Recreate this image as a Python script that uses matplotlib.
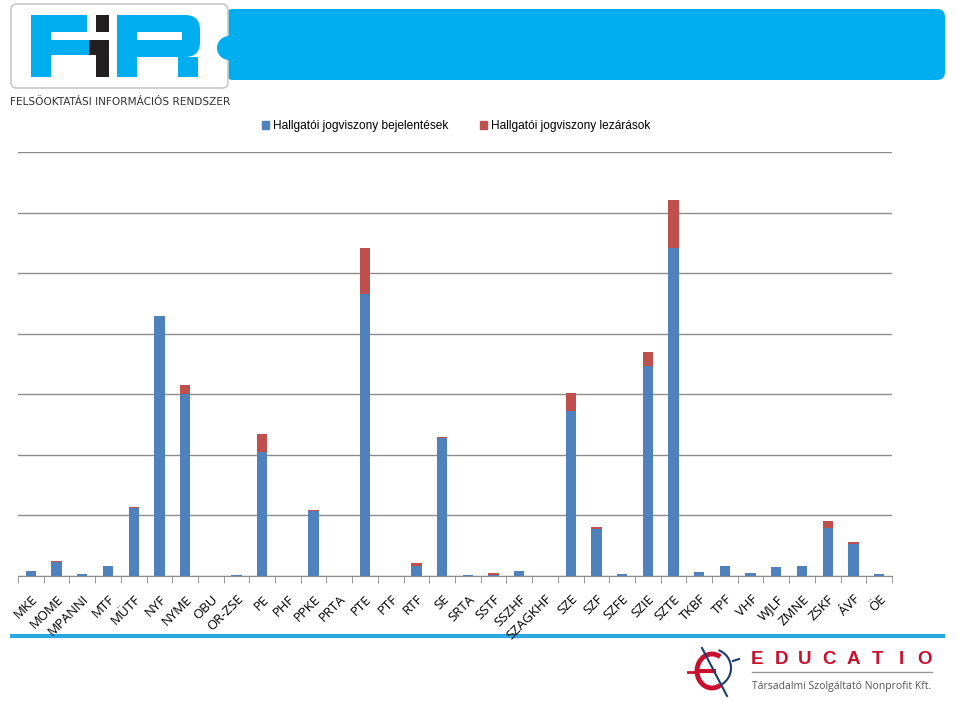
import numpy as np
import matplotlib
matplotlib.use("Agg")
from matplotlib import pyplot as plt
from matplotlib.patches import FancyBboxPatch, Rectangle, Arc, Patch, Wedge

# intézmények
institutions = ["MKE", "MOME", "MPANNI", "MTF", "MÜTF", "NYF", "NYME", "OBU", "OR-ZSE", "PE",
                "PHF", "PPKE", "PRTA", "PTE", "PTF", "RTF", "SE", "SRTA", "SSTF", "SSZHF",
                "SZAGKHF", "SZE", "SZF", "SZFE", "SZIE", "SZTE", "TKBF", "TPF", "VHF", "WJLF",
                "ZMNE", "ZSKF", "ÁVF", "ÖE"]
# Hallgatói jogviszony bejelentések
reports = [83, 230, 40, 165, 1125, 4290, 3005, 0, 10, 2055,
           5, 1075, 0, 4655, 5, 170, 2275, 10, 20, 83,
           5, 2725, 770, 33, 3470, 5420, 66, 170, 44, 143,
           160, 787, 523, 25]
# Hallgatói jogviszony lezárások
closures = [0, 10, 0, 0, 17, 0, 150, 0, 5, 290,
            0, 16, 0, 760, 0, 50, 16, 5, 30, 0,
            0, 290, 45, 0, 225, 790, 0, 0, 0, 0,
            0, 120, 40, 8]

W, H = 959, 701


def main():
    plt.rcParams['font.family'] = ['Liberation Sans', 'DejaVu Sans']
    fig = plt.figure(figsize=(W / 100, H / 100), dpi=100)

    # háttér: logók
    bg = fig.add_axes([0, 0, 1, 1])
    bg.set_xlim(0, W)
    bg.set_ylim(H, 0)
    bg.axis('off')
    blue = "#00aeef"
    bg.add_patch(FancyBboxPatch((225, 9), 720, 71, boxstyle="round,pad=0,rounding_size=8",
                                fc=blue, ec="none"))
    bg.add_patch(FancyBboxPatch((11, 4), 217, 84, boxstyle="round,pad=0,rounding_size=6",
                                fc="white", ec="#c8c8c8", lw=1.2))
    bg.add_patch(Wedge((229, 48), 12, 90, 270, fc=blue, ec="none"))
    # F
    bg.add_patch(Rectangle((31, 15), 20, 62, fc=blue, ec="none"))
    bg.add_patch(Rectangle((31, 15), 56, 17, fc=blue, ec="none"))
    bg.add_patch(Rectangle((31, 40), 58, 15, fc=blue, ec="none"))
    # I
    bg.add_patch(Rectangle((96, 15), 13, 17, fc="#231f20", ec="none"))
    bg.add_patch(Rectangle((89, 40), 20, 15, fc="#231f20", ec="none"))
    bg.add_patch(Rectangle((96, 55), 13, 22, fc="#231f20", ec="none"))
    # R
    bg.add_patch(Rectangle((117, 15), 20, 62, fc=blue, ec="none"))
    bg.add_patch(FancyBboxPatch((117, 15), 83, 42, boxstyle="round,pad=0,rounding_size=15",
                                fc=blue, ec="none"))
    bg.add_patch(Rectangle((137, 32), 45, 8, fc="white", ec="none"))
    bg.add_patch(Rectangle((178, 57), 20, 20, fc=blue, ec="none"))
    bg.text(10, 102, "FELSŐOKTATÁSI INFORMÁCIÓS RENDSZER", fontsize=7.6, color="#333333",
            va="center", ha="left", family="Liberation Sans Narrow")

    # alsó sáv
    bg.plot([10, 945], [636, 636], color="#29a9e0", lw=3, solid_capstyle="butt")
    red = "#c8102e"
    navy = "#1f3a6e"
    bg.add_patch(Arc((712, 671), 30, 34, theta1=60, theta2=300, color=red, lw=3.5))
    bg.plot([699, 714], [671, 671], color=red, lw=3)
    bg.plot([688, 694], [672, 672], color=red, lw=2)
    bg.add_patch(Arc((712, 668), 38, 38, theta1=-70, theta2=65, color=navy, lw=1.5))
    bg.plot([733, 739], [661, 659], color=navy, lw=1.5)
    bg.plot([702, 727], [648, 696], color=navy, lw=1.5)
    for i, ch in enumerate("EDUCATIO"):
        bg.text(757 + i * 24.0, 660, ch, fontsize=13.5, fontweight="bold", color=red,
                va="center", ha="center")
    bg.plot([752, 932], [672, 672], color="#9a9a9a", lw=1)
    bg.text(752, 686, "Társadalmi Szolgáltató Nonprofit Kft.", fontsize=7.5, color="#555555",
            va="center", ha="left", family="Open Sans")

    # diagram
    left, right, top, bottom = 18, 892, 152, 576
    ax = fig.add_axes([left / W, 1 - bottom / H, (right - left) / W, (bottom - top) / H])
    x = np.arange(len(institutions))
    rep = np.array(reports)
    clo = np.array(closures)
    ax.bar(x, rep, width=0.4, color="#4f81bd", label="Hallgatói jogviszony bejelentések")
    ax.bar(x, clo, width=0.4, bottom=rep, color="#c0504d", label="Hallgatói jogviszony lezárások")
    ax.set_xlim(-0.5, len(institutions) - 0.5)
    ax.set_ylim(0, 7000)
    ax.set_yticks(np.arange(0, 7001, 1000))
    ax.yaxis.grid(True, color="#8c8c8c", lw=1)
    ax.set_axisbelow(True)
    ax.tick_params(axis="y", left=False, labelleft=False)
    for s in ["top", "right", "left"]:
        ax.spines[s].set_visible(False)
    ax.spines["bottom"].set_color("#8c8c8c")
    ax.set_xticks(x)
    ax.set_xticklabels(institutions, rotation=45, ha="right", rotation_mode="anchor",
                       fontsize=9.5, family=["Open Sans", "DejaVu Sans"])
    ax.tick_params(axis="x", length=0, pad=12)
    ax.set_xticks(np.arange(-0.5, len(institutions)), minor=True)
    ax.tick_params(axis="x", which="minor", length=5, color="#8c8c8c")

    handles = [Patch(color="#4f81bd"), Patch(color="#c0504d")]
    fig.legend(handles, ["Hallgatói jogviszony bejelentések", "Hallgatói jogviszony lezárások"],
               loc="center left", bbox_to_anchor=(262 / W, 1 - 126 / H), ncol=2,
               frameon=False, fontsize=8.6, handlelength=0.6, handleheight=0.6,
               handletextpad=0.35, columnspacing=2.6, borderpad=0, borderaxespad=0)

    fig.savefig("out.png", dpi=100)


if __name__ == '__main__':
    main()
